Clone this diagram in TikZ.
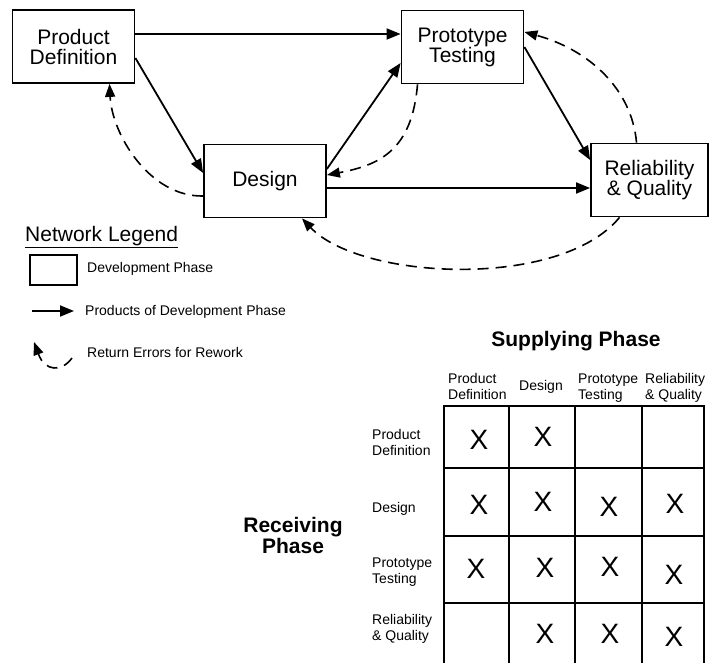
\documentclass[tikz,border=0pt]{standalone}
\usepackage{fontspec}
\setmainfont{Liberation Sans}
\usepackage{tikz}
\usetikzlibrary{arrows.meta,positioning,calc}

\begin{document}
\begin{tikzpicture}[
        x=1pt, y=-1pt,
        % Phase boxes of the development network
        box/.style={rectangle, draw, line width=1.8pt, minimum width=#1,
            minimum height=73pt, inner sep=0pt,
            align=center, font=\fontsize{21}{20}\selectfont},
        box/.default=122pt,
        prod/.style={-{Triangle[length=14pt,width=11pt]}, line width=1.8pt},
        rework/.style={-{Triangle[length=13pt,width=10pt]}, line width=1.6pt,
            dash pattern=on 11pt off 7pt},
        legtext/.style={anchor=west, inner sep=0pt, font=\fontsize{14}{16}\selectfont},
        hdr/.style={align=left, inner sep=0pt, font=\fontsize{14}{16}\selectfont},
        title/.style={align=center, inner sep=0pt, font=\bfseries\fontsize{21}{21}\selectfont},
        xmark/.style={inner sep=0pt, font=\fontsize{28}{28}\selectfont}
    ]
        \useasboundingbox (0,0) rectangle (709,663);

        \node[box] (pd) at (73.5,46.5) {Product\\Definition};
        \node[box] (ds) at (265,181) {Design};
        \node[box] (pt) at (462.5,47) {Prototype\\Testing};
        \node[box=117pt] (rq) at (649.5,180) {Reliability\\\& Quality};

        % Products passed forward
        \draw[prod] ([yshift=12.5pt]pd.east) -- ([yshift=12.5pt]pd.east -| pt.west);
        \draw[prod] ([yshift=-11.5pt]pd.east) -- ([yshift=8pt]ds.west);
        \draw[prod] ([yshift=12pt]ds.east) -- ([yshift=-16pt]pt.west);
        \draw[prod] ([yshift=-7pt]ds.east) -- ([yshift=-7pt]ds.east -| rq.west);
        \draw[prod] (pt.east) -- ([yshift=20pt]rq.west);

        % Errors sent back
        \draw[rework] ([xshift=-13pt]rq.north) .. controls (632,90) and (590,50) .. ([yshift=15pt]pt.east);
        \draw[rework] ([xshift=-45pt]pt.south) .. controls (412,150) and (380,165) .. ([yshift=6pt]ds.east);
        \draw[rework] ([yshift=-15pt]ds.west) .. controls (150,197) and (112,135) .. ([xshift=36pt]pd.south);
        \draw[rework] ([xshift=-30pt]rq.south) .. controls (560,290) and (360,280) .. ([xshift=37pt]ds.south);

        % Legend
        \node[anchor=base west, inner sep=0pt, font=\fontsize{21}{21}\selectfont] (leg) at (25,241) {\underline{Network Legend}};
        \node[draw, line width=1.5pt, minimum width=47pt, minimum height=30pt, inner sep=0pt] (legbox) at (53.5,270) {};
        \node[legtext] (legboxtxt) at (87,269) {Development Phase};
        \coordinate (la) at (32,311);
        \coordinate (lb) at (74,311);
        \draw[prod] (la) -- (lb);
        \node[legtext] (legprodtxt) at (85,312) {Products of Development Phase};
        \coordinate (lc) at (72,358);
        \coordinate (ld) at (34,342);
        \draw[rework] (lc) .. controls (62,372) and (45,372) .. (ld);
        \node[legtext] (legreworktxt) at (87,352) {Return Errors for Rework};

        % Dependency matrix
        \node[title] (supply) at (576,341) {Supplying Phase};
        \node[title] (receive) at (293,535) {Receiving\\Phase};

        \node[hdr, anchor=west] (c1) at (448,386) {Product\\Definition};
        \node[hdr] (c2) at (541,387) {Design};
        \node[hdr, anchor=west] (c3) at (578,388) {Prototype\\Testing};
        \node[hdr, anchor=west] (c4) at (645,388) {Reliability\\\& Quality};

        \node[hdr, anchor=west] (r1) at (372,442) {Product\\Definition};
        \node[hdr, anchor=west] (r2) at (372,509) {Design};
        \node[hdr, anchor=west] (r3) at (372,572) {Prototype\\Testing};
        \node[hdr, anchor=west] (r4) at (372,629) {Reliability\\\& Quality};

        \draw[line width=2pt] (444,663) -- (444,406) -- (704,406) -- (704,663);
        \foreach \x in {509,575,642}
            \draw[line width=1.3pt] (\x,406) -- (\x,663);
        \foreach \y in {468,536,603}
            \draw[line width=1.3pt] (444,\y) -- (704,\y);

        \foreach \x/\y/\n in {479/440/11, 543/437/12,
                479/505/21, 543/502/22, 609/507/23, 675/504/24,
                476/569/31, 545/568/32, 610/567/33, 674/575/34,
                545/634/42, 610/634/43, 674/637/44}
            \node[xmark] (x\n) at (\x,\y) {X};
    \end{tikzpicture}
\end{document}
